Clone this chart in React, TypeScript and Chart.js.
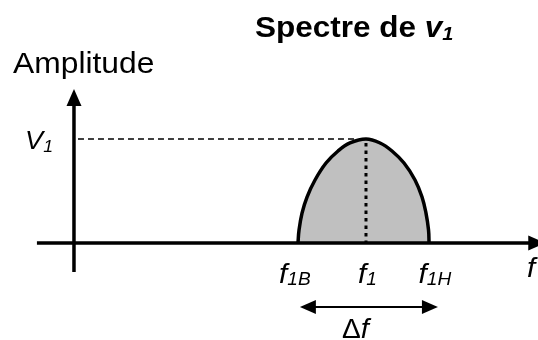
import { useEffect, useRef } from 'react';
import { Chart, registerables } from 'chart.js';

Chart.register(...registerables);

// Spectrum hump (frequency in arbitrary units, amplitude relative to V1)
const humpFrequency = [3.446, 3.462, 3.508, 3.585, 3.708, 3.877, 4.062, 4.246, 4.492, 4.708, 4.892, 5.077, 5.246, 5.354, 5.415, 5.454, 5.462];
const humpAmplitude = [0, 0.125, 0.288, 0.442, 0.606, 0.769, 0.885, 0.962, 1, 0.962, 0.885, 0.769, 0.606, 0.442, 0.288, 0.125, 0];

// Frequency marks on the horizontal axis
const tickValues = [3.46, 4.5, 5.46];
const tickMain = ['f', 'f', 'f'];
const tickSub = ['1B', '1', '1H'];

const peakFrequency = 4.492;
const peakAmplitude = 1;
const peakLabelMain = 'V';
const peakLabelSub = '1';

// Axis extents
const xAxisStart = -0.57;
const xAxisEnd = 7.25;
const yAxisStart = -0.28;
const yAxisEnd = 1.48;

const titleMain = 'Spectre de ';
const titleVar = 'v';
const titleSub = '1';
const yAxisTitle = 'Amplitude';
const xAxisTitle = 'f';
const bandLabel = 'Δ';
const bandLabelVar = 'f';

const FONT = '"Liberation Sans", Arial, sans-serif';

function textW(ctx: CanvasRenderingContext2D, t: string, font: string, sx: number) {
  ctx.font = font;
  return ctx.measureText(t).width * sx;
}

function fillScaled(ctx: CanvasRenderingContext2D, t: string, x: number, y: number, font: string, sx: number) {
  ctx.save();
  ctx.font = font;
  ctx.textAlign = 'left';
  ctx.textBaseline = 'alphabetic';
  ctx.translate(x, y);
  ctx.scale(sx, 1);
  ctx.fillText(t, 0, 0);
  ctx.restore();
}

function drawSub(
  ctx: CanvasRenderingContext2D,
  main: string,
  sub: string,
  x: number,
  y: number,
  mainFont: string,
  subFont: string,
  align: 'left' | 'center' | 'right',
  subDy: number,
  sx: number
) {
  const wm = textW(ctx, main, mainFont, sx);
  const ws = textW(ctx, sub, subFont, sx);
  const total = wm + ws;
  let x0 = x;
  if (align === 'center') x0 = x - total / 2;
  if (align === 'right') x0 = x - total;
  fillScaled(ctx, main, x0, y, mainFont, sx);
  fillScaled(ctx, sub, x0 + wm, y + subDy, subFont, sx);
}

const diagramPlugin = {
  id: 'diagram',
  afterDatasetsDraw(chart: any) {
    const ctx: CanvasRenderingContext2D = chart.ctx;
    const xs = chart.scales.x;
    const ys = chart.scales.y;
    const px = (v: number) => xs.getPixelForValue(v);
    const py = (v: number) => ys.getPixelForValue(v);
    ctx.save();
    ctx.fillStyle = '#000';
    ctx.strokeStyle = '#000';

    const x0 = px(0);
    const y0 = py(0);

    // dotted vertical at f1
    ctx.setLineDash([3.5, 4]);
    ctx.lineWidth = 3;
    ctx.beginPath();
    ctx.moveTo(px(peakFrequency), py(peakAmplitude) + 4);
    ctx.lineTo(px(peakFrequency), y0);
    ctx.stroke();

    // dashed horizontal at V1
    ctx.setLineDash([6, 4]);
    ctx.lineWidth = 1.5;
    ctx.beginPath();
    ctx.moveTo(x0 + 4, py(peakAmplitude));
    ctx.lineTo(px(peakFrequency) - 8, py(peakAmplitude));
    ctx.stroke();
    ctx.setLineDash([]);

    // axes
    ctx.lineWidth = 3.5;
    ctx.beginPath();
    ctx.moveTo(px(xAxisStart), y0);
    ctx.lineTo(px(xAxisEnd) - 14, y0);
    ctx.moveTo(x0, py(yAxisStart));
    ctx.lineTo(x0, py(yAxisEnd) + 14);
    ctx.stroke();
    const xt = px(xAxisEnd);
    ctx.beginPath();
    ctx.moveTo(xt, y0);
    ctx.lineTo(xt - 17, y0 - 7.5);
    ctx.lineTo(xt - 17, y0 + 7.5);
    ctx.closePath();
    ctx.fill();
    const yt = py(yAxisEnd);
    ctx.beginPath();
    ctx.moveTo(x0, yt);
    ctx.lineTo(x0 - 7.5, yt + 17);
    ctx.lineTo(x0 + 7.5, yt + 17);
    ctx.closePath();
    ctx.fill();

    // delta f arrow
    const ay = y0 + 64;
    const axL = px(tickValues[0]) + 1;
    const axR = px(tickValues[2]) + 9;
    ctx.lineWidth = 2;
    ctx.beginPath();
    ctx.moveTo(axL + 10, ay);
    ctx.lineTo(axR - 10, ay);
    ctx.stroke();
    ctx.beginPath();
    ctx.moveTo(axL, ay);
    ctx.lineTo(axL + 16, ay - 7);
    ctx.lineTo(axL + 16, ay + 7);
    ctx.closePath();
    ctx.fill();
    ctx.beginPath();
    ctx.moveTo(axR, ay);
    ctx.lineTo(axR - 16, ay - 7);
    ctx.lineTo(axR - 16, ay + 7);
    ctx.closePath();
    ctx.fill();

    // texts
    const mainI = `italic 28px ${FONT}`;
    const subI = `italic 18px ${FONT}`;
    const offsets = [-4, 1, 6];
    tickValues.forEach((v, i) => {
      drawSub(ctx, tickMain[i], tickSub[i], px(v) + offsets[i], y0 + 40, mainI, subI, 'center', 2, 1.06);
    });
    fillScaled(ctx, xAxisTitle, 527, y0 + 34, mainI, 1.06);

    // delta f label
    const regF = `27px ${FONT}`;
    const wd = textW(ctx, bandLabel, regF, 1.04);
    fillScaled(ctx, bandLabel, 342, y0 + 95, regF, 1.04);
    fillScaled(ctx, bandLabelVar, 342 + wd, y0 + 95, mainI, 1.04);

    // V1
    drawSub(ctx, peakLabelMain, peakLabelSub, x0 - 21, py(peakAmplitude) + 10, `italic 26px ${FONT}`, `italic 17px ${FONT}`, 'right', 3, 1.04);

    // Amplitude
    fillScaled(ctx, yAxisTitle, 13, 73, `30px ${FONT}`, 1.06);

    // Title
    const tf = `bold 30px ${FONT}`;
    fillScaled(ctx, titleMain, 255, 37, tf, 1.05);
    const wt = textW(ctx, titleMain, tf, 1.05);
    drawSub(ctx, titleVar, titleSub, 255 + wt, 37, `italic bold 30px ${FONT}`, `italic bold 19px ${FONT}`, 'left', 3, 1.05);

    ctx.restore();
  },
};

export default function App() {
  const canvasRef = useRef<HTMLCanvasElement>(null);

  useEffect(() => {
    document.body.style.margin = '0';
    const canvas = canvasRef.current;
    if (!canvas) return;
    const chart = new Chart(canvas, {
      type: 'line',
      data: {
        datasets: [
          {
            data: humpFrequency.map((f, i) => ({ x: f, y: humpAmplitude[i] })),
            borderColor: '#000',
            borderWidth: 3.5,
            backgroundColor: '#c0c0c0',
            fill: 'origin',
            pointRadius: 0,
            tension: 0.4,
          },
        ],
      },
      options: {
        responsive: false,
        animation: false,
        devicePixelRatio: 1,
        layout: { padding: 0 },
        plugins: { legend: { display: false }, tooltip: { enabled: false }, title: { display: false } },
        scales: {
          x: { type: 'linear', display: false, min: -1.138, max: 7.138 },
          y: { type: 'linear', display: false, min: -0.933, max: 2.337 },
        },
      },
      plugins: [diagramPlugin],
    });
    return () => chart.destroy();
  }, []);

  return (
    <div style={{ position: 'fixed', left: 0, top: 0, width: 538, height: 340, background: '#fff' }}>
      <canvas ref={canvasRef} width={538} height={340} />
    </div>
  );
}
